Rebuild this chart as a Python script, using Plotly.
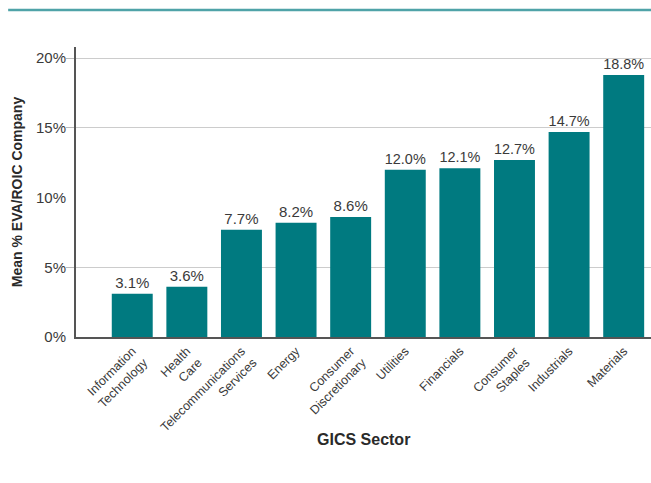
import plotly.graph_objects as go

sectors = ["Information<br>Technology", "Health<br>Care", "Telecommunications<br>Services",
           "Energy", "Consumer<br>Discretionary", "Utilities", "Financials",
           "Consumer<br>Staples", "Industrials", "Materials"]
values = [3.1, 3.6, 7.7, 8.2, 8.6, 12.0, 12.1, 12.7, 14.7, 18.8]
ytick_vals = [0, 5, 10, 15, 20]
ytick_text = ["0%", "5%", "10%", "15%", "20%"]
grid_vals = [5, 15, 20]

FONT = "Liberation Sans"
TXT = "#3a3a3a"
TEAL = "#007a80"

fig = go.Figure()
fig.add_trace(go.Bar(
    x=list(range(len(sectors))), y=values,
    marker=dict(color=TEAL, line=dict(width=0)),
    text=[f"{v:.1f}%" for v in values], textposition="outside",
    textfont=dict(family=FONT, size=15, color=TXT),
    cliponaxis=False, width=0.75,
))

fig.update_layout(
    width=651, height=483,
    margin=dict(l=76, r=0, t=47, b=146),
    plot_bgcolor="white", paper_bgcolor="white",
    showlegend=False,
    font=dict(family=FONT, color=TXT),
    xaxis=dict(
        range=[-1.03, 9.5], tickmode="array",
        tickvals=list(range(len(sectors))), ticktext=sectors,
        tickangle=-45, tickfont=dict(size=12.5, color=TXT),
        showline=True, linecolor="#555555", linewidth=2,
        ticks="", showgrid=False, zeroline=False,
    ),
    yaxis=dict(
        range=[0, 20.8], tickmode="array", tickvals=grid_vals,
        showticklabels=False,
        showgrid=True, gridcolor="#cccccc", gridwidth=1,
        ticks="outside", ticklen=8, tickcolor="#bbbbbb",
        showline=True, linecolor="#555555", linewidth=1.5, zeroline=False,
    ),
    yaxis2=dict(
        overlaying="y", side="left", range=[0, 20.8],
        tickmode="array", tickvals=ytick_vals, ticktext=ytick_text,
        tickfont=dict(size=15, color=TXT), ticks="", ticklabelstandoff=9,
        showgrid=False, zeroline=False, showline=False,
        title=dict(text="<b>Mean % EVA/ROIC Company</b>", font=dict(size=14, color="#2a2a2a"), standoff=10),
    ),
)
# invisible helper trace keeps the label axis active
fig.add_trace(go.Scatter(x=[0], y=[0], yaxis="y2", mode="markers",
                         marker=dict(opacity=0), hoverinfo="skip"))

fig.add_annotation(text="<b>GICS Sector</b>", xref="paper", yref="paper",
                   x=0.5, y=-0.355, showarrow=False, yanchor="middle",
                   font=dict(size=16, color="#2a2a2a", family=FONT))

fig.add_shape(type="line", xref="paper", yref="paper",
              x0=-0.118, x1=1.0, y0=1.1276, y1=1.1276,
              line=dict(color="#4fa3a8", width=2.5))

fig.write_html("out.html")
